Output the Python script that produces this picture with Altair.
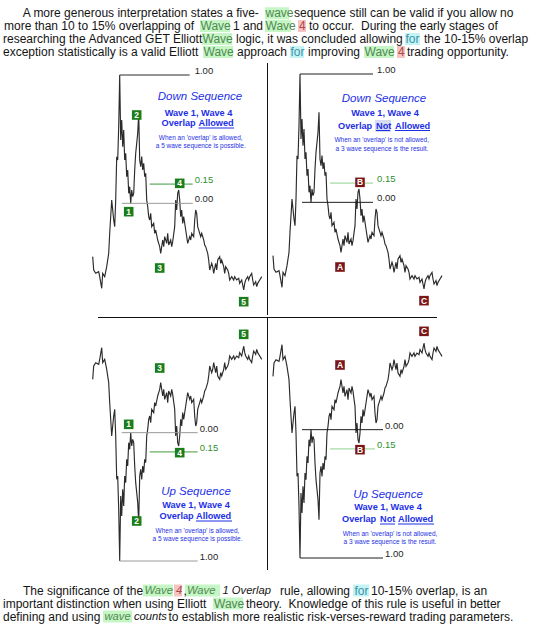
import altair as alt
import pandas as pd

# ---------------- price series (trading day, price) ----------------
days = [0, 1, 3, 6, 7, 9, 10, 12, 14, 16,
        17, 19, 21, 22, 23, 24, 25, 26, 27, 28,
        29, 30, 31, 32, 33, 34, 35, 36, 37, 38,
        39, 40, 41, 42, 43, 45, 46, 47, 48, 49,
        50, 51, 52, 53, 54, 55, 56, 57, 58, 59,
        61, 62, 63, 65, 66, 67, 68, 70, 71, 72,
        74, 75, 76, 78, 79, 80, 82, 83, 84, 85,
        86, 87, 88, 89, 90, 91, 93, 94, 95, 97,
        98, 99, 101, 102, 103, 104, 105, 107, 108, 109,
        111, 112, 113, 115, 116, 117, 119, 120, 121, 123,
        124, 125, 127, 128, 129, 131, 132, 133, 135, 136,
        137, 139, 141, 142, 144, 146, 147, 149, 151, 152,
        153, 155, 156, 157, 159, 160, 161, 163, 164, 165,
        167, 168, 169]
prices = [16.0, 12.0, 11.0, 11.5, 10.0, 6.5, 11.0, 10.0, 13.0, 17.0,
          23.0, 33.0, 27.0, 25.0, 33.0, 46.0, 45.0, 55.0, 70.5, 51.0,
          57.0, 49.0, 54.0, 45.0, 47.0, 40.0, 42.0, 35.0, 37.0, 32.0,
          36.0, 34.0, 35.0, 42.0, 47.0, 53.0, 59.0, 45.0, 43.0, 46.0,
          42.0, 44.0, 40.0, 41.0, 33.0, 31.0, 28.0, 27.0, 29.0, 25.0,
          26.0, 23.0, 24.0, 21.0, 20.0, 19.0, 17.0, 21.0, 19.0, 22.0,
          20.0, 23.0, 19.5, 21.0, 19.0, 20.5, 25.0, 33.0, 30.0, 35.0,
          36.0, 33.0, 28.0, 30.0, 26.0, 28.0, 24.0, 22.0, 20.0, 22.0,
          21.0, 23.0, 22.0, 27.0, 30.0, 29.0, 25.0, 23.0, 22.0, 23.0,
          21.0, 19.5, 19.0, 17.0, 15.0, 12.0, 14.0, 13.0, 11.0, 14.0,
          12.0, 15.0, 16.0, 14.0, 15.0, 13.0, 11.0, 13.0, 12.0, 11.0,
          9.0, 10.0, 9.0, 10.0, 9.0, 9.5, 8.0, 9.0, 6.0, 8.0,
          9.0, 10.0, 9.0, 10.0, 11.0, 9.0, 7.5, 8.5, 7.0, 8.0,
          9.0, 9.5, 10.0]

# wave label anchors (trading day, price)
wave_days = [36, 44, 67, 87, 151]
wave_prices = [29.5, 58.5, 12.6, 38.0, 2.5]
impulse_names = ["1", "2", "3", "4", "5"]
corrective_names = ["", "", "A", "B", "C"]

level_names = ["1.00", "0.00", "0.15"]
level_fracs = [1.0, 0.0, 0.15]

# ---------------- paragraph text ----------------
top_seg_line = [0, 0, 0, 1, 1, 1, 1, 1, 1, 2, 2, 2, 2, 2, 3, 3, 3, 3, 3, 3, 3, 3]
top_seg_text = ["A more generous interpretation states a five-", "wave",
                "sequence still can be valid if you allow no",
                "more than 10 to 15% overlapping of", "Wave", "1 and", "Wave", "4",
                "to occur.\u00a0 During the early stages of",
                "researching the Advanced GET Elliott", "Wave",
                "logic, it was concluded allowing", "for", "the 10-15% overlap",
                "exception statistically is a valid Elliott", "Wave", "approach", "for",
                "improving", "Wave", "4", "trading opportunity."]
top_seg_kind = ["plain", "green", "plain", "plain", "green", "plain", "green", "red", "plain",
                "plain", "green", "plain", "cyan", "plain",
                "plain", "green", "plain", "cyan", "plain", "green", "red", "plain"]
top_seg_ital = [False] * 22
top_box_line = [0, 1, 1, 1, 2, 2, 3, 3, 3, 3]
top_box_kind = ["green", "green", "green", "red", "green", "cyan", "green", "cyan", "green", "red"]

bot_seg_line = [0, 0, 0, 0, 0, 0, 0, 0, 0, 1, 1, 1, 2, 2, 2, 2]
bot_seg_text = ["The significance of the", "Wave", "4", ",", "Wave", "1 Overlap",
                "rule, allowing", "for", "10-15% overlap, is an",
                "important distinction when using Elliott", "Wave",
                "theory.\u00a0 Knowledge of this rule is useful in better",
                "defining and using", "wave", "counts",
                "to establish more realistic risk-verses-reward trading parameters."]
bot_seg_kind = ["plain", "green", "red", "plain", "green", "plain", "plain", "cyan", "plain",
                "plain", "green", "plain", "plain", "green", "plain", "plain"]
bot_seg_ital = [False, True, True, False, True, True, False, False, False,
                False, False, False, False, True, True, False]
bot_box_line = [0, 0, 0, 0, 1, 2]
bot_box_kind = ["green", "red", "green", "cyan", "green", "green"]

# ---------------- layout (pixel positions of text pieces) ----------------
top_line_y = [13.3, 26, 39, 52]
top_seg_x = [22.7, 265.5, 294, 4, 200.5, 233, 265.5, 299, 309, 3, 202.5, 236, 405.5, 424,
             3, 203.5, 237, 290.5, 308, 364.5, 398, 407]
top_box_x0 = [265, 200, 265, 298, 202, 405, 203, 290, 364, 397]
top_box_x1 = [289, 230, 291, 306, 232, 420, 233, 304, 394, 405]

bot_line_y = [18.5, 31.5, 44.5]
bot_seg_x = [23, 144.5, 176, 183.5, 187, 222.5, 280, 354.5, 371, 3, 214, 246, 3, 104.5, 134, 168.5]
bot_box_x0 = [143, 174, 185, 353, 213, 103]
bot_box_x1 = [173, 182, 220, 369, 243, 132]

FONT = "Liberation Sans"
BLUE = "#1d30e6"
FILL = {"green": "#c6f5c6", "red": "#f6c3c3", "cyan": "#c4f3f6"}
INK = {"plain": "#141414", "green": "#4f8a4f", "red": "#b04848", "cyan": "#3d94a6"}

one = pd.DataFrame({"k": [0]})


def text_block(h, line_y, s_line, s_x, s_text, s_kind, s_ital, b_line, b_x0, b_x1, b_kind):
    xs = alt.Scale(domain=[0, 537], nice=False, zero=False)
    ys = alt.Scale(domain=[0, h], nice=False, zero=False, reverse=True)
    bdf = pd.DataFrame({
        "x0": b_x0, "x1": b_x1,
        "y0": [line_y[l] - 6 for l in b_line], "y1": [line_y[l] + 6 for l in b_line],
        "c": [FILL[k] for k in b_kind]})
    tdf = pd.DataFrame({
        "x": s_x, "y": [line_y[l] for l in s_line], "t": s_text,
        "c": [INK[k] for k in s_kind], "it": s_ital})
    boxes = alt.Chart(bdf).mark_rect().encode(
        x=alt.X("x0:Q", scale=xs, axis=None), x2="x1:Q",
        y=alt.Y("y0:Q", scale=ys, axis=None), y2="y1:Q",
        color=alt.Color("c:N", scale=None))
    layers = [boxes]
    for ital in (False, True):
        sub = tdf[tdf["it"] == ital]
        if len(sub) == 0:
            continue
        kw = dict(align="left", baseline="middle", font=FONT, fontSize=12)
        if ital:
            kw["fontStyle"] = "italic"
            kw["fontSize"] = 11.2
        layers.append(alt.Chart(sub).mark_text(**kw).encode(
            x=alt.X("x:Q", scale=xs, axis=None), y=alt.Y("y:Q", scale=ys, axis=None),
            text="t:N", color=alt.Color("c:N", scale=None)))
    return alt.layer(*layers).properties(width=537, height=h)


def vtext(txt, x, y, size, align="center", weight="normal", style="normal", color=BLUE):
    return alt.Chart(one).mark_text(
        text=txt, align=align, baseline="middle", font=FONT, fontSize=size,
        fontWeight=weight, fontStyle=style, color=color
    ).encode(x=alt.value(x), y=alt.value(y))


def vrule(x0, x1, y0, y1, color, width=1.0):
    return alt.Chart(one).mark_rule(color=color, strokeWidth=width).encode(
        x=alt.value(x0), x2=alt.value(x1), y=alt.value(y0), y2=alt.value(y1))


def vrect(x0, x1, y0, y1, color):
    return alt.Chart(one).mark_rect(color=color).encode(
        x=alt.value(x0), x2=alt.value(x1), y=alt.value(y0), y2=alt.value(y1))


# ---------------- levels from the data ----------------
peak = max(prices)
peak_day = days[prices.index(peak)]
base = min(p for d, p in zip(days, prices) if peak_day <= d <= 46)
level_values = [base + f * (peak - base) for f in level_fracs]

price_df = pd.DataFrame({"day": days, "price": prices})

BOLD = 9.2


def panel(w, h, xdom, ydom, rev, d0, d1, dl, lc, names, box_color, deco):
    xs = alt.Scale(domain=xdom, nice=False, zero=False)
    ys = alt.Scale(domain=ydom, nice=False, zero=False, reverse=rev)

    def X(f):
        return alt.X(f, type="quantitative", scale=xs, axis=None)

    def Y(f):
        return alt.Y(f, type="quantitative", scale=ys, axis=None)

    lvdf = pd.DataFrame({"level": level_names, "value": level_values,
                         "d0": d0, "d1": d1, "dl": dl, "lc": lc,
                         "tc": ["#1e1e1e", "#1e1e1e", "#2f8f2f"]})
    wdf = pd.DataFrame({"day": wave_days, "price": wave_prices, "name": names})
    wdf = wdf[wdf["name"] != ""]

    line = alt.Chart(price_df).mark_line(color="#2b2b2b", strokeWidth=1.15).encode(
        x=X("day"), y=Y("price"))
    rules = alt.Chart(lvdf).mark_rule(strokeWidth=1).encode(
        x=X("d0"), x2=alt.X2("d1"), y=Y("value"), color=alt.Color("lc:N", scale=None))
    labels = alt.Chart(lvdf).mark_text(
        align="left", baseline="bottom", dy=1, font=FONT, fontSize=9.5).encode(
        x=X("dl"), y=Y("value"), text="level:N", color=alt.Color("tc:N", scale=None))
    boxes = alt.Chart(wdf).mark_square(size=92, opacity=1, color=box_color).encode(
        x=X("day"), y=Y("price"))
    btxt = alt.Chart(wdf).mark_text(
        color="white", fontWeight="bold", fontSize=8.5, font=FONT, baseline="middle").encode(
        x=X("day"), y=Y("price"), text="name:N")
    return alt.layer(line, rules, labels, boxes, btxt, *deco).properties(width=w, height=h)


GREEN_BOX = "#1b7e1b"
RED_BOX = "#7c1616"

tl = panel(267, 253, [-92.7, 174.3], [-1.5, 74.4], False,
           [27, 29, 57], [97, 100, 100], [102, 102, 102], ["#2a2a2a", "#9a9a9a", "#3c9a3c"],
           impulse_names, GREEN_BOX, [
               vtext("Down Sequence", 200, 35.3, 11.5, style="italic"),
               vtext("Wave 1, Wave 4", 198.5, 50.7, BOLD, weight="bold"),
               vtext("Overlap", 161.5, 61.3, BOLD, align="left", weight="bold"),
               vtext("Allowed", 198.5, 61.3, BOLD, align="left", weight="bold"),
               vrule(198.5, 234, 66, 66, BLUE),
               vtext("When an 'overlap' is allowed,", 200.7, 76.3, 6.5),
               vtext("a 5 wave sequence is possible.", 200.7, 84, 6.5),
           ])

tr = panel(270, 253, [-6, 264], [-1.8, 74.1], False,
           [27, 29, 57], [100, 100, 100], [104, 104, 104], ["#1e1e1e", "#1e1e1e", "#8fd08f"],
           corrective_names, RED_BOX, [
               vrule(0.5, 0.5, 1, 253, "#111111"),
               vtext("Down Sequence", 117, 37, 11.5, style="italic"),
               vtext("Wave 1, Wave 4", 118, 51.3, BOLD, weight="bold"),
               vrect(108, 124, 58, 70, "#d5dbf0"),
               vtext("Overlap", 71, 64, BOLD, align="left", weight="bold"),
               vtext("Not", 109, 64, BOLD, align="left", weight="bold"),
               vtext("Allowed", 128, 64, BOLD, align="left", weight="bold"),
               vrule(109, 123, 68.5, 68.5, BLUE),
               vrule(128, 163, 68.5, 68.5, BLUE),
               vtext("When an 'overlap' is not allowed,", 114.7, 78, 6.5),
               vtext("a 3 wave sequence is the result.", 115, 87, 6.5),
           ])

bl = panel(267, 255, [-92.7, 174.3], [-2.7, 73.8], True,
           [27, 29, 57], [105, 105, 105], [107, 107, 107], ["#9a9a9a", "#9a9a9a", "#3c9a3c"],
           impulse_names, GREEN_BOX, [
               vrule(98, 267, 0.5, 0.5, "#111111"),
               vtext("Up Sequence", 196, 175, 11.5, style="italic"),
               vtext("Wave 1, Wave 4", 196, 188, BOLD, weight="bold"),
               vtext("Overlap", 159.5, 199, BOLD, align="left", weight="bold"),
               vtext("Allowed", 196, 199, BOLD, align="left", weight="bold"),
               vrule(196, 232, 204, 204, BLUE),
               vtext("When an 'overlap' is allowed,", 197.5, 214.3, 6.5),
               vtext("a 5 wave sequence is possible.", 197.5, 221.7, 6.5),
           ])

br = panel(270, 255, [-6, 264], [-1.8, 74.7], True,
           [27, 29, 57], [110, 110, 102], [112, 112, 104], ["#1e1e1e", "#1e1e1e", "#8fd08f"],
           corrective_names, RED_BOX, [
               vrule(0.5, 0.5, 0, 253, "#111111"),
               vrule(0, 170, 0.5, 0.5, "#111111"),
               vtext("Up Sequence", 121, 178, 11.5, style="italic"),
               vtext("Wave 1, Wave 4", 121, 190.3, BOLD, weight="bold"),
               vtext("Overlap", 75, 201.7, BOLD, align="left", weight="bold"),
               vtext("Not", 113, 201.7, BOLD, align="left", weight="bold"),
               vtext("Allowed", 131, 201.7, BOLD, align="left", weight="bold"),
               vrule(113, 128, 207, 207, BLUE),
               vrule(131, 167, 207, 207, BLUE),
               vtext("When an 'overlap' is not allowed,", 123, 216.7, 6.5),
               vtext("a 3 wave sequence is the result.", 123, 225, 6.5),
           ])

top = text_block(62, top_line_y, top_seg_line, top_seg_x, top_seg_text, top_seg_kind,
                 top_seg_ital, top_box_line, top_box_x0, top_box_x1, top_box_kind)
bottom = text_block(55, bot_line_y, bot_seg_line, bot_seg_x, bot_seg_text, bot_seg_kind,
                    bot_seg_ital, bot_box_line, bot_box_x0, bot_box_x1, bot_box_kind)

chart = alt.vconcat(
    top,
    alt.hconcat(tl, tr, spacing=0, bounds="flush"),
    alt.hconcat(bl, br, spacing=0, bounds="flush"),
    bottom,
    spacing=0,
).properties(padding=0, background="white").configure_view(stroke=None)

chart.save("out.html", embed_options={"renderer": "svg", "actions": False})
